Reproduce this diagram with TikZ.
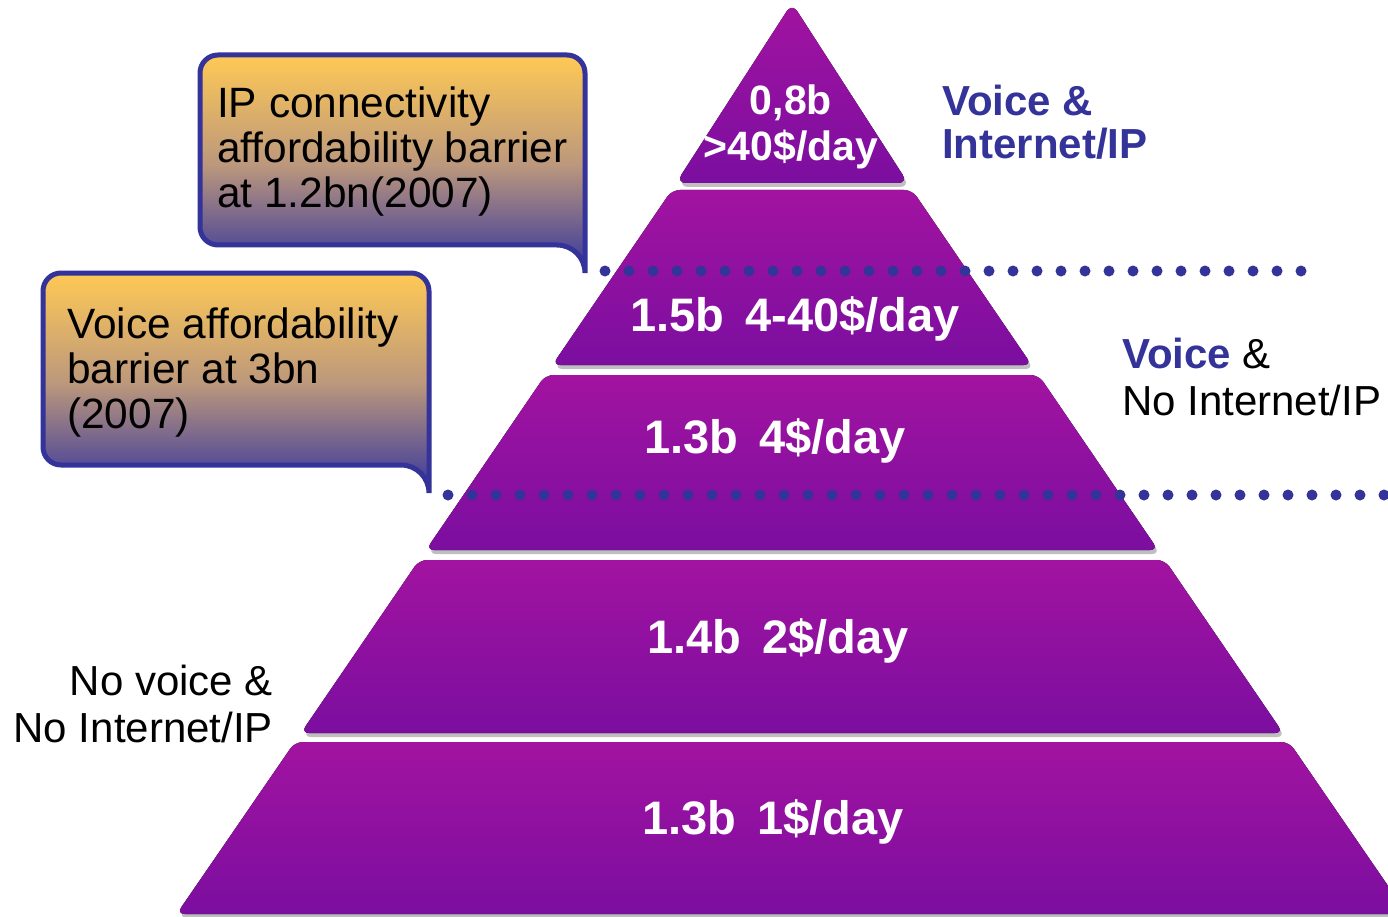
\documentclass[tikz,border=0pt]{standalone}
\usepackage{fontspec}
\setmainfont{Liberation Sans}
\definecolor{navy}{HTML}{333399}
\definecolor{pyrTop}{HTML}{A213A0}
\definecolor{pyrBot}{HTML}{7B0EA0}
\definecolor{calTop}{HTML}{FFC955}
\definecolor{calMid}{HTML}{BC987C}
\definecolor{calBot}{HTML}{34349E}
% invisible strut fixing the height of a first text line
\newcommand\lnstrut{\rule{0pt}{33pt}}
\begin{document}
\begin{tikzpicture}[x=1pt,y=-1pt,
  layerfill/.style={top color=pyrTop, bottom color=pyrBot, rounded corners=8},
  layershadow/.style={fill=black!45, opacity=0.55, rounded corners=8, shift={(2,4)}},
  laytext/.style={text=white, font=\bfseries\fontsize{47}{52}\selectfont, inner sep=0, anchor=base},
  callout/.style={draw=navy, line width=5, top color=calTop, bottom color=calBot, middle color=calMid},
  caltext/.style={font=\fontsize{42.4}{45}\selectfont, align=left, anchor=north west, inner sep=0},
  sidetext/.style={font=\fontsize{42}{47}\selectfont, inner sep=0},
  dotline/.style={draw=navy, line width=11, line cap=round, dash pattern=on 0pt off 24pt}]
\useasboundingbox (0,0) rectangle (1388,917);
\fill[white] (0,0) rectangle (1388,917);

% pyramid layers: shadow first, then the shaded body
\fill[layershadow, rounded corners=10] (792,3) -- (908,183) -- (676,183) -- cycle;
\fill[layerfill, rounded corners=10] (792,3) -- (908,183) -- (676,183) -- cycle;
\fill[layershadow] (671.8,190) -- (912.2,190) -- (1031.7,365) -- (552.3,365) -- cycle;
\fill[layerfill] (671.8,190) -- (912.2,190) -- (1031.7,365) -- (552.3,365) -- cycle;
\fill[layershadow] (545.4,375) -- (1038.6,375) -- (1158.1,550) -- (425.9,550) -- cycle;
\fill[layerfill] (545.4,375) -- (1038.6,375) -- (1158.1,550) -- (425.9,550) -- cycle;
\fill[layershadow] (419.1,560) -- (1164.9,560) -- (1283.1,733) -- (300.9,733) -- cycle;
\fill[layerfill] (419.1,560) -- (1164.9,560) -- (1283.1,733) -- (300.9,733) -- cycle;
\fill[layershadow] (294.8,742) -- (1289.2,742) -- (1407.4,914) -- (176.6,914) -- cycle;
\fill[layerfill] (294.8,742) -- (1289.2,742) -- (1407.4,914) -- (176.6,914) -- cycle;

% callout boxes with a tail at the lower right corner (angles run clockwise, y points down)
\draw[callout] (200,227) -- (200,73) arc[start angle=180,end angle=270,radius=18]
  -- (567,55) arc[start angle=270,end angle=360,radius=18]
  -- (585,273) arc[start angle=0,end angle=-90,radius=28]
  -- (218,245) arc[start angle=90,end angle=180,radius=18] -- cycle;
\draw[callout] (43,447) -- (43,291) arc[start angle=180,end angle=270,radius=18]
  -- (411,273) arc[start angle=270,end angle=360,radius=18]
  -- (429,493) arc[start angle=0,end angle=-90,radius=28]
  -- (61,465) arc[start angle=90,end angle=180,radius=18] -- cycle;

\node[caltext] (ipbar) at (217,84)
  {\lnstrut IP connectivity\\affordability barrier\\at 1.2bn(2007)};
\node[caltext] (vobar) at (67,305)
  {\lnstrut Voice affordability\\barrier at 3bn\\(2007)};

% barrier lines
\coordinate (ipStart) at (605,271);
\coordinate (ipEnd) at (1303,271);
\coordinate (voStart) at (448,495);
\coordinate (voEnd) at (1395,495);
\draw[dotline] (ipStart) -- (ipEnd);
\draw[dotline] (voStart) -- (voEnd);

% layer labels
\node[text=white, font=\bfseries\fontsize{41}{46}\selectfont, inner sep=0,
  align=center, anchor=north] (n1) at (791,81) {\lnstrut 0,8b\\>40\$/day};
\node[laytext] (n2) at (795,331) {1.5b\hspace{0.45em}4-40\$/day};
\node[laytext] (n3) at (775,453) {1.3b\hspace{0.45em}4\$/day};
\node[laytext] (n4) at (778,653) {1.4b\hspace{0.45em}2\$/day};
\node[laytext] (n5) at (773,834) {1.3b\hspace{0.45em}1\$/day};

% group labels
\node[text=navy, font=\bfseries\fontsize{42}{43}\selectfont, inner sep=0,
  align=left, anchor=north west] (gIP) at (942,82) {\lnstrut Voice \&\\Internet/IP};
\node[sidetext, align=left, anchor=north west] (gVoice) at (1122,335)
  {\lnstrut\textcolor{navy}{\bfseries Voice} \&\\No Internet/IP};
\node[sidetext, align=right, anchor=north east] (gNone) at (273,662)
  {\lnstrut No voice \&\\No Internet/IP};
\end{tikzpicture}
\end{document}
